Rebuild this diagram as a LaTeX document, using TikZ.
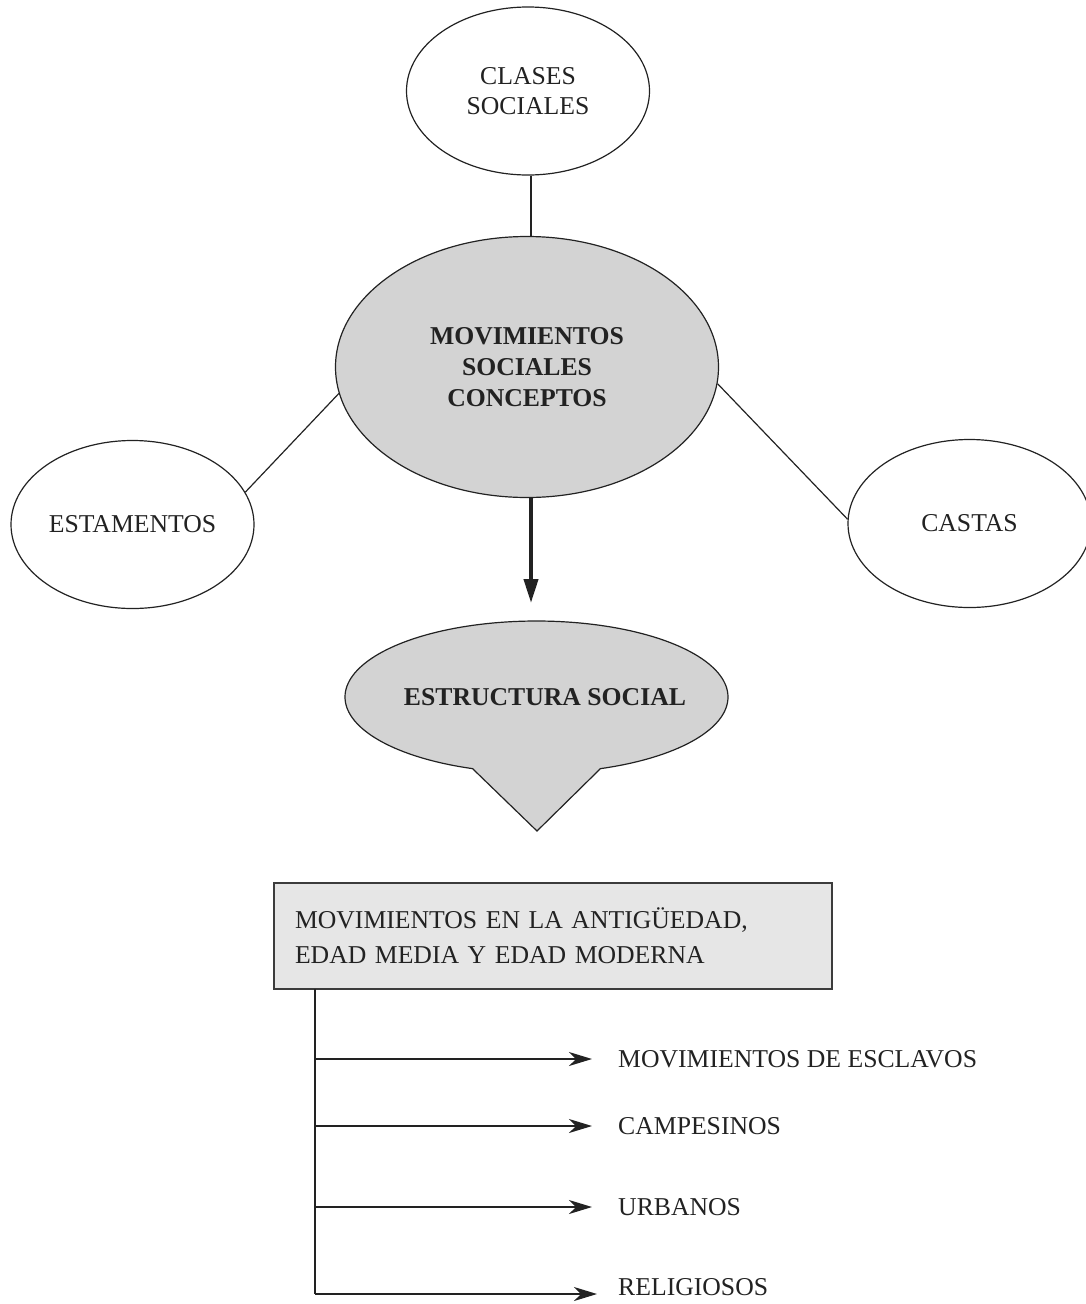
\documentclass[tikz,border=0pt]{standalone}
\usepackage{fontspec}
\setmainfont{Liberation Serif}
\usetikzlibrary{arrows.meta,shapes.geometric}

\definecolor{inkc}{HTML}{222222}
\definecolor{conceptgray}{HTML}{D3D3D3}
\definecolor{boxgray}{HTML}{E6E6E6}
\definecolor{boxline}{HTML}{3C3C3C}
\newcommand\lblfont{\fontsize{25.7}{30}\selectfont}

\begin{document}
\begin{tikzpicture}[x=1pt,y=-1pt,
  every node/.style={text=inkc, font=\lblfont},
  concept/.style={ellipse, draw=inkc, line width=1.2pt, fill=white,
    minimum width=243pt, minimum height=168pt, inner sep=0pt, align=center},
  hub/.style={ellipse, draw=inkc, line width=1.2pt, fill=conceptgray,
    minimum width=383pt, minimum height=261pt, inner sep=0pt, align=center,
    font=\lblfont\bfseries},
  link/.style={draw=inkc, line width=1.2pt},
  bigarrow/.style={draw=inkc, line width=4pt, -{Triangle[length=24pt,width=14pt]}},
  branch/.style={draw=inkc, line width=1.3pt, -{Stealth[length=23pt,width=14pt,inset=7pt]}},
  leaf/.style={anchor=west, inner xsep=26pt, inner ysep=0pt},
  periodbox/.style={rectangle, draw=boxline, line width=1.6pt, fill=boxgray,
    minimum width=558pt, minimum height=106pt, text width=516pt, inner xsep=21pt,
    align=left, font=\fontsize{25.7}{35}\selectfont}
]
\clip (0,0) rectangle (1086,1304);

% central concept and the three surrounding concepts
\node[hub] (main) at (527,367) {MOVIMIENTOS\\[1pt]SOCIALES\\[1pt]CONCEPTOS};
\node[concept] (clases) at (528,91) {CLASES\\SOCIALES};
\node[concept] (estamentos) at (132.5,524.5) {ESTAMENTOS};
\node[concept] (castas) at (969.5,523.5) {CASTAS};

\draw[link] (clases.south -| 531,0) -- (main.north -| 531,0);
\draw[link] (estamentos.16) -- (main.188);
\draw[link] (main.-5) -- (castas.178);

% speech-bubble for the social structure
\draw[draw=inkc, line width=1.2pt, fill=conceptgray]
  plot[domain=-70.5:250.5, samples=160] ({536.5+191.5*cos(\x)},{697-76*sin(\x)})
  -- (537,831) -- cycle;
\node[font=\lblfont\bfseries] (estructura) at (545,697) {ESTRUCTURA SOCIAL};

\coordinate (arrowend) at (531,603);
\draw[bigarrow] (arrowend |- main.south) -- (arrowend);

% historical periods and their movements
\node[periodbox] (periodos) at (553,936)
  {MOVIMIENTOS EN LA ANTIGÜEDAD,\\EDAD MEDIA Y EDAD MODERNA};

\coordinate (trunk) at (315,989);
\coordinate (b1) at (315,1059);
\coordinate (b2) at (315,1126);
\coordinate (b3) at (315,1207);
\coordinate (b4) at (315,1294);

\node[leaf] (esclavos) at (592,1059) {MOVIMIENTOS DE ESCLAVOS};
\node[leaf] (campesinos) at (592,1126) {CAMPESINOS};
\node[leaf] (urbanos) at (592,1207) {URBANOS};
\node[leaf, inner xsep=21pt] (religiosos) at (597,1287) {RELIGIOSOS};

\draw[draw=inkc, line width=1.3pt] (trunk) -- (b4);
\draw[branch] (b1) -- (b1 -| esclavos.west);
\draw[branch] (b2) -- (b2 -| campesinos.west);
\draw[branch] (b3) -- (b3 -| urbanos.west);
\draw[branch] (b4) -- (b4 -| religiosos.west);
\end{tikzpicture}
\end{document}
